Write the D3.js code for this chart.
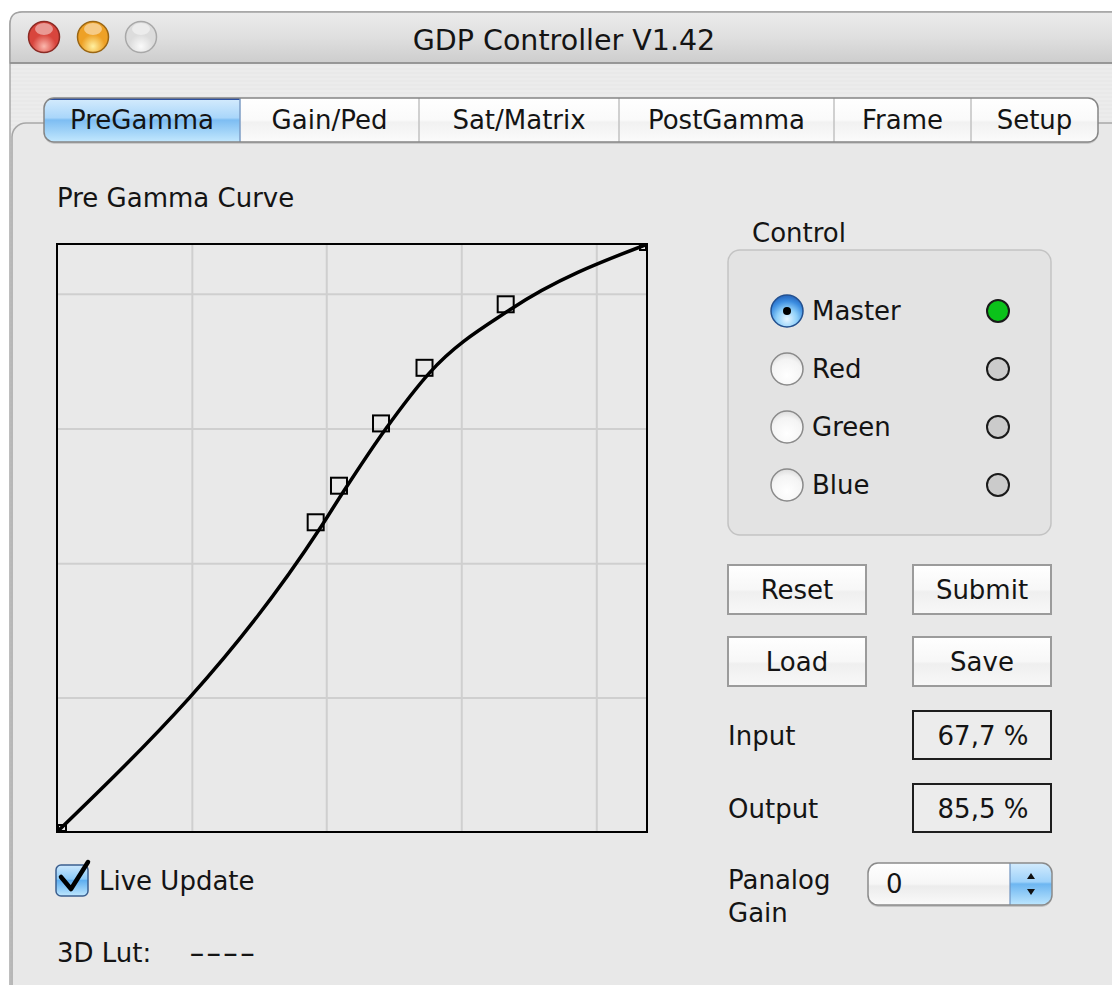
<!DOCTYPE html>
<html>
<head>
<meta charset="utf-8">
<script src="https://cdn.jsdelivr.net/npm/d3@7"></script>
<style>
  html, body { margin: 0; padding: 0; background: #ffffff; }
  svg { display: block; }
  text { font-family: "DejaVu Sans", "Lucida Grande", sans-serif; fill: #141414; }
</style>
</head>
<body>
<script>
// ---------- data ----------
const windowTitle = "GDP Controller V1.42";
const tabLabels = ["PreGamma", "Gain/Ped", "Sat/Matrix", "PostGamma", "Frame", "Setup"];
const tabEdges = [44, 240, 419, 619, 834, 971, 1098];
const chartTitle = "Pre Gamma Curve";
const inputPct  = [0, 44.75, 48.72, 55.88, 63.29, 77.12, 100];
const outputPct = [0, 51.83, 58.07, 68.70, 78.19, 89.03, 100];
const gridPct = [22.8, 45.7, 68.7, 91.7];
const channels = ["Master", "Red", "Green", "Blue"];
const channelActive = [true, false, false, false];
const buttonLabels = [["Reset", "Submit"], ["Load", "Save"]];
const readouts = [["Input", "67,7 %"], ["Output", "85,5 %"]];
const panalogValue = "0";

// ---------- page ----------
const W = 1112, H = 985;
const svg = d3.select("body").append("svg").attr("width", W).attr("height", H);
const defs = svg.append("defs");

function vgrad(id, stops) {
  const g = defs.append("linearGradient").attr("id", id)
    .attr("x1", 0).attr("y1", 0).attr("x2", 0).attr("y2", 1);
  stops.forEach(([o, c]) => g.append("stop").attr("offset", o).attr("stop-color", c));
  return `url(#${id})`;
}
function rgrad(id, stops, cx = 0.5, cy = 0.35, r = 0.65) {
  const g = defs.append("radialGradient").attr("id", id)
    .attr("cx", cx).attr("cy", cy).attr("r", r);
  stops.forEach(([o, c]) => g.append("stop").attr("offset", o).attr("stop-color", c));
  return `url(#${id})`;
}

// pinstripe pattern
const pat = defs.append("pattern").attr("id", "stripes").attr("patternUnits", "userSpaceOnUse")
  .attr("width", 8).attr("height", 4);
pat.append("rect").attr("width", 8).attr("height", 4).attr("fill", "#ececec");
pat.append("rect").attr("width", 8).attr("height", 2).attr("fill", "#e9e9e9");

// window body
svg.append("rect").attr("x", 10).attr("y", 12).attr("width", W + 20).attr("height", H + 20)
  .attr("rx", 12).attr("fill", "url(#stripes)").attr("stroke", "#a9a9a9").attr("stroke-width", 1.5);

// title bar
const titleFill = vgrad("titleG", [[0, "#ececec"], [0.5, "#dfdfdf"], [1, "#cdcdcd"]]);
svg.append("path")
  .attr("d", `M10,63 L10,24 Q10,12 22,12 L${W + 10},12 L${W + 10},63 Z`)
  .attr("fill", titleFill).attr("stroke", "#a3a3a3").attr("stroke-width", 1.5);
svg.append("line").attr("x1", 10).attr("x2", W).attr("y1", 63).attr("y2", 63)
  .attr("stroke", "#8e8e8e").attr("stroke-width", 1.5);
svg.append("text").attr("x", 564).attr("y", 40).attr("text-anchor", "middle")
  .attr("dominant-baseline", "central").attr("font-size", 28.5).text(windowTitle);

// traffic lights
const lights = [
  { cx: 44, base: "#d8453d", hi: "#fbb7ad", st: "#8a2a24" },
  { cx: 93, base: "#eea126", hi: "#fff0a0", st: "#9a6614" },
  { cx: 141, base: "#dcdcdc", hi: "#fafafa", st: "#a8a8a8" }
];
lights.forEach((l, i) => {
  const f = rgrad("tl" + i, [[0, l.hi], [0.55, l.base], [1, l.base]], 0.5, 0.8, 0.7);
  svg.append("circle").attr("cx", l.cx).attr("cy", 37).attr("r", 15.5)
    .attr("fill", f).attr("stroke", l.st).attr("stroke-width", 1.5);
  svg.append("ellipse").attr("cx", l.cx).attr("cy", 29).attr("rx", 9).attr("ry", 6)
    .attr("fill", "#ffffff").attr("opacity", 0.45);
});

// tab panel
svg.append("rect").attr("x", 12).attr("y", 123).attr("width", W + 40).attr("height", H)
  .attr("rx", 14).attr("fill", "#e8e8e8").attr("stroke", "#a6a6a6").attr("stroke-width", 1.5);

// tabs
const tabX0 = tabEdges[0], tabX1 = tabEdges[tabEdges.length - 1];
const tabY = 98, tabH = 44;
defs.append("clipPath").attr("id", "tabClip").append("rect")
  .attr("x", tabX0).attr("y", tabY).attr("width", tabX1 - tabX0).attr("height", tabH).attr("rx", 10);
svg.append("rect").attr("x", tabX0).attr("y", tabY + 2).attr("width", tabX1 - tabX0).attr("height", tabH)
  .attr("rx", 10).attr("fill", "#b5b5b5").attr("opacity", 0.6);
const tabG = svg.append("g").attr("clip-path", "url(#tabClip)");
tabG.append("rect").attr("x", tabX0).attr("y", tabY).attr("width", tabX1 - tabX0).attr("height", tabH)
  .attr("fill", vgrad("tabW", [[0, "#ffffff"], [0.5, "#fafafa"], [0.55, "#f1f1f1"], [1, "#fbfbfb"]]));
tabG.append("rect").attr("x", tabEdges[0]).attr("y", tabY).attr("width", tabEdges[1] - tabEdges[0]).attr("height", tabH)
  .attr("fill", vgrad("tabB", [[0, "#d6ecfd"], [0.45, "#a9d6fa"], [0.5, "#7dbdf2"], [1, "#c3e8fe"]]));
tabG.append("line").attr("x1", tabEdges[0]).attr("x2", tabEdges[1]).attr("y1", tabY + 1).attr("y2", tabY + 1)
  .attr("stroke", "#2b4fa0").attr("stroke-width", 2);
tabG.selectAll("line.div").data(tabEdges.slice(1, -1)).join("line").attr("class", "div")
  .attr("x1", d => d).attr("x2", d => d).attr("y1", tabY).attr("y2", tabY + tabH)
  .attr("stroke", d => d === tabEdges[1] ? "#7c9cc4" : "#c2c2c2").attr("stroke-width", 1.5);
svg.append("rect").attr("x", tabX0).attr("y", tabY).attr("width", tabX1 - tabX0).attr("height", tabH)
  .attr("rx", 10).attr("fill", "none").attr("stroke", "#858585").attr("stroke-width", 1.5);
svg.selectAll("text.tab").data(tabLabels).join("text").attr("class", "tab")
  .attr("x", (d, i) => (tabEdges[i] + tabEdges[i + 1]) / 2).attr("y", 120)
  .attr("text-anchor", "middle").attr("dominant-baseline", "central").attr("font-size", 26)
  .text(d => d);

// ---------- chart ----------
svg.append("text").attr("x", 57).attr("y", 198).attr("dominant-baseline", "central")
  .attr("font-size", 26).text(chartTitle);

const x = d3.scaleLinear().domain([0, 100]).range([58, 645]);
const y = d3.scaleLinear().domain([0, 100]).range([831, 245]);
const plot = { x0: 57, y0: 244, x1: 647, y1: 832 };

svg.append("rect").attr("x", plot.x0).attr("y", plot.y0)
  .attr("width", plot.x1 - plot.x0).attr("height", plot.y1 - plot.y0).attr("fill", "#e9e9e9");

const gx = svg.append("g").attr("transform", `translate(0,${plot.y1})`)
  .call(d3.axisBottom(x).tickValues(gridPct).tickSize(-(plot.y1 - plot.y0)).tickFormat(""));
const gy = svg.append("g").attr("transform", `translate(${plot.x0},0)`)
  .call(d3.axisLeft(y).tickValues(gridPct).tickSize(-(plot.x1 - plot.x0)).tickFormat(""));
[gx, gy].forEach(g => {
  g.select(".domain").remove();
  g.selectAll(".tick line").attr("stroke", "#cfcfcf").attr("stroke-width", 2);
});

defs.append("clipPath").attr("id", "plotClip").append("rect")
  .attr("x", plot.x0).attr("y", plot.y0).attr("width", plot.x1 - plot.x0).attr("height", plot.y1 - plot.y0);

const pts = inputPct.map((v, i) => [v, outputPct[i]]);
const line = d3.line().x(d => x(d[0])).y(d => y(d[1])).curve(d3.curveMonotoneX);
const cg = svg.append("g").attr("clip-path", "url(#plotClip)");
cg.append("path").datum(pts).attr("d", line).attr("fill", "none")
  .attr("stroke", "#000").attr("stroke-width", 3.5).attr("stroke-linejoin", "round");

// control point markers
cg.selectAll("rect.cp").data(pts.slice(1, -1)).join("rect").attr("class", "cp")
  .attr("x", d => x(d[0]) - 13).attr("y", d => y(d[1]) - 13)
  .attr("width", 16).attr("height", 16)
  .attr("fill", "none").attr("stroke", "#000").attr("stroke-width", 2);
const first = pts[0], last = pts[pts.length - 1];
cg.append("rect").attr("x", x(first[0])).attr("y", y(first[1]) - 6).attr("width", 8).attr("height", 6)
  .attr("fill", "none").attr("stroke", "#000").attr("stroke-width", 2);
cg.append("rect").attr("x", x(last[0]) - 5).attr("y", y(last[1])).attr("width", 6).attr("height", 5)
  .attr("fill", "none").attr("stroke", "#000").attr("stroke-width", 2);

svg.append("rect").attr("x", plot.x0).attr("y", plot.y0)
  .attr("width", plot.x1 - plot.x0).attr("height", plot.y1 - plot.y0)
  .attr("fill", "none").attr("stroke", "#000").attr("stroke-width", 2);

// Live update checkbox
svg.append("rect").attr("x", 56).attr("y", 865).attr("width", 32).attr("height", 31).attr("rx", 5)
  .attr("fill", vgrad("chk", [[0, "#cde8fd"], [0.45, "#8ccaf7"], [0.5, "#5eaef0"], [1, "#bfe7fe"]]))
  .attr("stroke", "#3b5f8f").attr("stroke-width", 1.5);
svg.append("path").attr("d", "M61,877 L71,889 L88,862")
  .attr("fill", "none").attr("stroke", "#000").attr("stroke-width", 4.5)
  .attr("stroke-linecap", "round").attr("stroke-linejoin", "round");
svg.append("text").attr("x", 99).attr("y", 881).attr("dominant-baseline", "central")
  .attr("font-size", 26).text("Live Update");
svg.append("text").attr("x", 57).attr("y", 953).attr("dominant-baseline", "central")
  .attr("font-size", 26).text("3D Lut:");
svg.append("text").attr("transform", "translate(189,953) scale(1.7,1)")
  .attr("dominant-baseline", "central")
  .attr("font-size", 26).attr("letter-spacing", 0.5).text("----");

// ---------- control panel ----------
svg.append("text").attr("x", 752).attr("y", 233).attr("dominant-baseline", "central")
  .attr("font-size", 26).text("Control");
svg.append("rect").attr("x", 728).attr("y", 250).attr("width", 323).attr("height", 285).attr("rx", 12)
  .attr("fill", "#e3e3e3").attr("stroke", "#c3c3c3").attr("stroke-width", 1.5);

const radioOn = rgrad("radOn", [[0, "#e8f6ff"], [0.45, "#8fd0fa"], [0.8, "#3c8de0"], [1, "#2a6dc4"]], 0.5, 0.75, 0.7);
const radioOff = rgrad("radOff", [[0, "#ffffff"], [0.7, "#f4f4f4"], [1, "#dcdcdc"]], 0.5, 0.7, 0.7);
const rowY = d3.scalePoint().domain(channels).range([311, 485]);
const rows = svg.selectAll("g.row").data(channels).join("g").attr("class", "row");
rows.append("circle").attr("cx", 787).attr("cy", d => rowY(d)).attr("r", 16)
  .attr("fill", (d, i) => channelActive[i] ? radioOn : radioOff)
  .attr("stroke", (d, i) => channelActive[i] ? "#23508f" : "#8a8a8a").attr("stroke-width", 1.5);
rows.filter((d, i) => channelActive[i]).append("circle")
  .attr("cx", 787).attr("cy", d => rowY(d)).attr("r", 4).attr("fill", "#000");
rows.append("text").attr("x", 812).attr("y", d => rowY(d)).attr("dominant-baseline", "central")
  .attr("font-size", 26).text(d => d);
rows.append("circle").attr("cx", 998).attr("cy", d => rowY(d)).attr("r", 11)
  .attr("fill", (d, i) => channelActive[i] ? "#0bc21a" : "#cbcbcb")
  .attr("stroke", "#1a1a1a").attr("stroke-width", 2);

// buttons
const btnFill = vgrad("btn", [[0, "#ffffff"], [0.5, "#f7f7f7"], [0.55, "#efefef"], [1, "#f8f8f8"]]);
const btnX = [728, 913], btnY = [565, 637];
buttonLabels.forEach((row, r) => row.forEach((lab, c) => {
  svg.append("rect").attr("x", btnX[c]).attr("y", btnY[r]).attr("width", 138).attr("height", 49)
    .attr("fill", btnFill).attr("stroke", "#9b9b9b").attr("stroke-width", 2);
  svg.append("text").attr("x", btnX[c] + 69).attr("y", btnY[r] + 24.5)
    .attr("text-anchor", "middle").attr("dominant-baseline", "central").attr("font-size", 26).text(lab);
}));

// readouts
const roY = [711, 784];
readouts.forEach(([lab, val], i) => {
  svg.append("text").attr("x", 728).attr("y", roY[i] + 25).attr("dominant-baseline", "central")
    .attr("font-size", 26).text(lab);
  svg.append("rect").attr("x", 913).attr("y", roY[i]).attr("width", 138).attr("height", 48)
    .attr("fill", "#ececec").attr("stroke", "#1e1e1e").attr("stroke-width", 2);
  svg.append("text").attr("x", 983).attr("y", roY[i] + 25).attr("text-anchor", "middle")
    .attr("dominant-baseline", "central").attr("font-size", 26).attr("fill", "#333").text(val);
});

// Panalog gain popup
svg.append("text").attr("x", 728).attr("y", 880).attr("dominant-baseline", "central")
  .attr("font-size", 26).text("Panalog");
svg.append("text").attr("x", 728).attr("y", 913).attr("dominant-baseline", "central")
  .attr("font-size", 26).text("Gain");
defs.append("clipPath").attr("id", "popClip").append("rect")
  .attr("x", 868).attr("y", 863).attr("width", 184).attr("height", 42).attr("rx", 10);
svg.append("rect").attr("x", 868).attr("y", 865).attr("width", 184).attr("height", 42).attr("rx", 10)
  .attr("fill", "#a0a0a0").attr("opacity", 0.5);
const pop = svg.append("g").attr("clip-path", "url(#popClip)");
pop.append("rect").attr("x", 868).attr("y", 863).attr("width", 184).attr("height", 42)
  .attr("fill", vgrad("popW", [[0, "#ffffff"], [0.5, "#f6f6f6"], [0.55, "#ececec"], [1, "#fafafa"]]));
pop.append("rect").attr("x", 1010).attr("y", 863).attr("width", 42).attr("height", 42)
  .attr("fill", vgrad("popB", [[0, "#d3ebfd"], [0.45, "#9ed2fa"], [0.5, "#6db6f1"], [1, "#bde6fe"]]));
pop.append("line").attr("x1", 1010).attr("x2", 1010).attr("y1", 863).attr("y2", 905)
  .attr("stroke", "#6f93c0").attr("stroke-width", 1.2);
svg.append("rect").attr("x", 868).attr("y", 863).attr("width", 184).attr("height", 42).attr("rx", 10)
  .attr("fill", "none").attr("stroke", "#8a8a8a").attr("stroke-width", 1.5);
svg.append("path").attr("d", "M1031,873 L1035,879 L1027,879 Z M1031,895 L1035,889 L1027,889 Z")
  .attr("fill", "#111");
svg.append("text").attr("x", 886).attr("y", 884).attr("dominant-baseline", "central")
  .attr("font-size", 26).text(panalogValue);
</script>
</body>
</html>
